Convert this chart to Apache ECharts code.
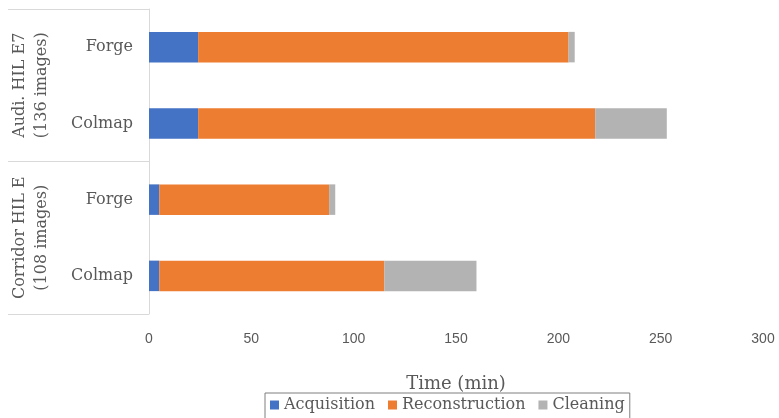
<!DOCTYPE html>
<html>
<head>
<meta charset="utf-8">
<script src="https://cdn.jsdelivr.net/npm/echarts@6/dist/echarts.min.js"></script>
<style>
  html, body { margin: 0; padding: 0; background: #fff; }
  #myChart { width: 779px; height: 418px; }
</style>
</head>
<body>
<div id="myChart"></div>
<script>
// data, top to bottom
var methods = ['Forge', 'Colmap', 'Forge', 'Colmap']
var groups = ['Audi. HIL E7\n(136 images)', 'Corridor HIL E\n(108 images)']
var acquisition = [24, 24, 5, 5]
var reconstruction = [181, 194, 83, 110]
var cleaning = [3, 35, 3, 45]
var xTicks = [0, 50, 100, 150, 200, 250, 300]

var serif = 'DejaVu Serif'
var grey = '#595959'

var myChart = echarts.init(document.getElementById('myChart'))

var option = {
  animation: false,
  color: ['#4472C4', '#ED7D31', '#B3B3B3'],
  grid: {
    left: 149,
    right: 16,
    top: 9,
    bottom: 104,
    containLabel: false
  },
  legend: {
    data: ['Acquisition', 'Reconstruction', 'Cleaning'],
    left: 265,
    top: 393,
    icon: 'rect',
    itemWidth: 9,
    itemHeight: 9,
    itemGap: 13,
    padding: [4, 5, 8, 5],
    borderColor: '#7f7f7f',
    borderWidth: 1,
    textStyle: { fontFamily: serif, fontSize: 16, color: grey }
  },
  xAxis: {
    type: 'value',
    min: xTicks[0],
    max: xTicks[xTicks.length - 1],
    interval: xTicks[1] - xTicks[0],
    name: 'Time (min)',
    nameLocation: 'middle',
    nameGap: 61,
    nameTextStyle: { fontFamily: serif, fontSize: 18, color: grey },
    axisLine: { show: false },
    axisTick: { show: false },
    splitLine: { show: false },
    axisLabel: { fontFamily: 'Liberation Sans', fontSize: 14, color: grey, margin: 18 }
  },
  yAxis: [
    {
      type: 'category',
      inverse: true,
      position: 'left',
      data: methods.map(function (m, i) { return { value: m + '_' + i } }),
      axisLine: { lineStyle: { color: '#D9D9D9' } },
      axisTick: { show: false },
      axisLabel: {
        interval: 0,
        fontFamily: serif,
        fontSize: 16,
        color: grey,
        margin: 16,
        formatter: function (v) { return v.split('_')[0] }
      }
    },
    {
      type: 'category',
      inverse: true,
      position: 'left',
      offset: 0,
      data: groups,
      axisLine: { show: false },
      axisTick: { show: true, interval: 0, length: 141, lineStyle: { color: '#D9D9D9' } },
      axisLabel: {
        interval: 0,
        rotate: 90,
        fontFamily: serif,
        fontSize: 16,
        lineHeight: 22,
        color: grey,
        margin: 96,
        align: 'center'
      }
    }
  ],
  series: [
    {
      name: 'Acquisition',
      type: 'bar',
      stack: 'time',
      barCategoryGap: '60%',
      data: acquisition
    },
    {
      name: 'Reconstruction',
      type: 'bar',
      stack: 'time',
      data: reconstruction
    },
    {
      name: 'Cleaning',
      type: 'bar',
      stack: 'time',
      data: cleaning
    }
  ]
}
myChart.setOption(option)
</script>
</body>
</html>
